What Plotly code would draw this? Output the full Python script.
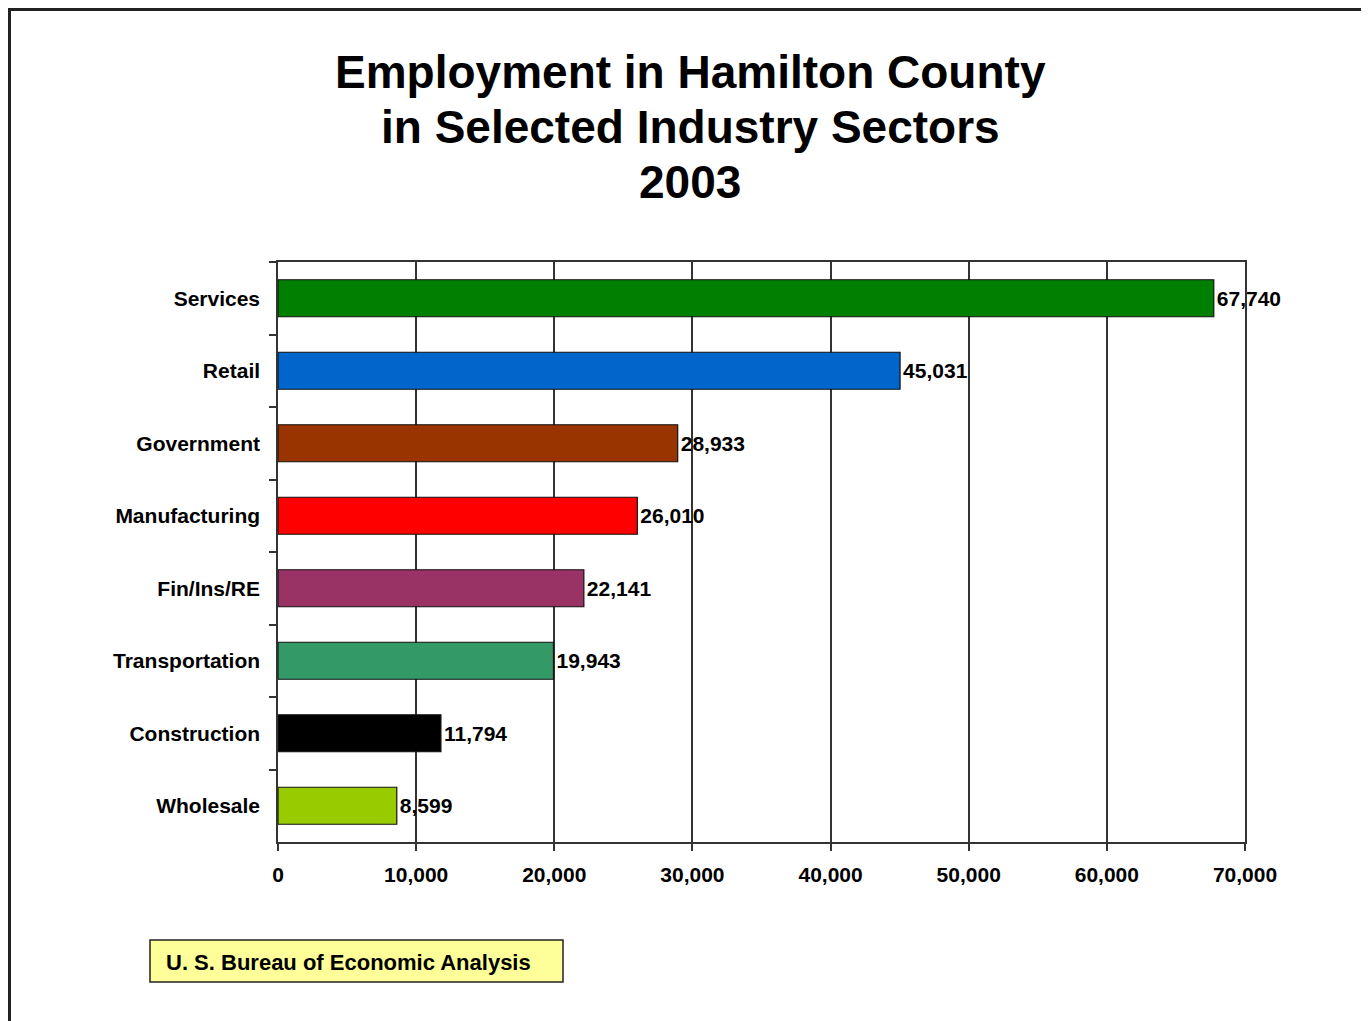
import plotly.graph_objects as go

categories = ["Services", "Retail", "Government", "Manufacturing", "Fin/Ins/RE",
              "Transportation", "Construction", "Wholesale"]
values = [67740, 45031, 28933, 26010, 22141, 19943, 11794, 8599]
colors = ["#007f00", "#0066cc", "#993300", "#ff0000", "#993366", "#339966", "#000000", "#99cc00"]
x_ticks = [0, 10000, 20000, 30000, 40000, 50000, 60000, 70000]
title_lines = ["Employment in Hamilton County", "in Selected Industry Sectors", "2003"]
source_text = "U. S. Bureau of Economic Analysis"

OFF = 8  # page body offset
W, H = 1369 - OFF, 1021 - OFF
L, R, T, B = 278 - OFF, 124, 262 - OFF, 179
PW, PH = W - L - R, H - T - B

def px_x(px):
    return (px - OFF - L) / PW

def px_y(py):
    return (H - B - (py - OFF)) / PH

FONT = "Arial, 'Liberation Sans', sans-serif"

fig = go.Figure()
fig.add_trace(go.Bar(
    x=values, y=categories, orientation="h",
    marker=dict(color=colors, line=dict(color="#111111", width=1.2)),
    width=0.51,
    text=[f"{v:,}" for v in values], textposition="outside",
    textfont=dict(family=FONT, size=21, color="#000000", weight="bold"),
    cliponaxis=False, hoverinfo="skip",
))

fig.update_layout(
    width=W, height=H,
    margin=dict(l=L, r=R, t=T, b=B),
    paper_bgcolor="#e6e6e6",
    plot_bgcolor="#ffffff",
    showlegend=False,
    font=dict(family=FONT, color="#000000"),
    bargap=0.49,
)

fig.update_xaxes(
    range=[0, 70000], tickvals=x_ticks, tickformat=",",
    showgrid=True, gridcolor="#333333", gridwidth=1.5,
    showline=True, linecolor="#333333", linewidth=1.5, mirror=True,
    ticks="outside", ticklen=7, tickcolor="#333333", tickwidth=1.5,
    tickfont=dict(family=FONT, size=21, color="#000000", weight="bold"),
    ticklabelstandoff=6, zeroline=False,
)
fig.update_yaxes(
    autorange="reversed", categoryorder="array", categoryarray=categories,
    showgrid=False,
    showline=True, linecolor="#333333", linewidth=1.5, mirror=True,
    ticks="outside", tickson="boundaries", ticklen=7, tickcolor="#333333", tickwidth=1.5,
    tickfont=dict(family=FONT, size=21, color="#000000", weight="bold"),
    ticklabelstandoff=12,
)

# slide frame (white page with dark border)
fig.add_shape(type="rect", xref="paper", yref="paper", layer="below",
              x0=px_x(9.5), x1=px_x(1366), y0=px_y(1100), y1=px_y(9.5),
              fillcolor="#ffffff", line=dict(color="#222222", width=3))

# title
for i, line in enumerate(title_lines):
    fig.add_annotation(text=f"<b>{line}</b>", xref="paper", yref="paper",
                       x=px_x(690), y=px_y(72 + 55 * i), xanchor="center", yanchor="middle",
                       showarrow=False, font=dict(family=FONT, size=46, color="#000000"))

# source box
fig.add_shape(type="rect", xref="paper", yref="paper",
              x0=px_x(150), x1=px_x(563), y0=px_y(982), y1=px_y(940),
              fillcolor="#ffff99", line=dict(color="#222222", width=1.5))
fig.add_annotation(text=f"<b>{source_text}</b>", xref="paper", yref="paper",
                   x=px_x(164), y=px_y(962), xanchor="left", yanchor="middle",
                   showarrow=False, font=dict(family=FONT, size=22, color="#000000"))

fig.write_html("out.html")
